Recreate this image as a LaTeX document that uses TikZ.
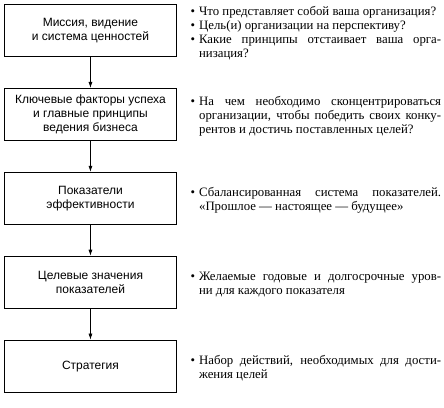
\documentclass[tikz,border=0pt]{standalone}
\usepackage{fontspec}
\setmainfont{Liberation Serif}
\setsansfont{Liberation Sans}
\usetikzlibrary{positioning,arrows.meta}

\tikzset{
  stage/.style={draw, line width=0.9pt, minimum width=172pt, minimum height=52pt,
    align=center, inner sep=2pt, font=\sffamily\fontsize{12}{14}\selectfont},
  notes/.style={anchor=west, text width=254pt, inner sep=0pt, align=justify,
    font=\fontsize{12.8}{14}\selectfont},
  flow/.style={-{Latex[length=6pt,width=4pt]}, line width=0.6pt}
}
\newenvironment{points}{\begin{list}{\textbullet}{\setlength{\leftmargin}{12pt}%
  \setlength{\labelwidth}{8pt}\setlength{\labelsep}{4pt}\setlength{\itemsep}{0pt}%
  \setlength{\parsep}{0pt}\setlength{\topsep}{0pt}\setlength{\partopsep}{0pt}}}{\end{list}}

\begin{document}
\begin{tikzpicture}
		%%%%% START %%%%%
		\useasboundingbox (0,0) rectangle (444pt,-407pt);
		
		\node[stage, anchor=north west] (miss) at (4pt,-4pt) {Миссия, видение\\и система ценностей};
		\node[stage, below=31pt of miss] (kfu) {Ключевые факторы успеха\\и главные принципы\\ведения бизнеса};
		\node[stage, below=31pt of kfu] (pok) {Показатели\\эффективности};
		\node[stage, below=31pt of pok] (cel) {Целевые значения\\показателей};
		\node[stage, below=31pt of cel] (str) {Стратегия};
		
		\foreach \a/\b in {miss/kfu, kfu/pok, pok/cel, cel/str}
			\draw[flow] (\a) -- (\b);
		
		\node[notes, right=10pt of miss] (missnote) {\begin{points}
			\item Что представляет собой ваша организация?
			\item Цель(и) организации на перспективу?
			\item Какие принципы отстаивает ваша орга-\linebreak низация?
		\end{points}};
		\node[notes, right=10pt of kfu] (kfunote) {\begin{points}
			\item На чем необходимо сконцентрироваться\linebreak организации, чтобы победить своих конку-\linebreak рентов и достичь поставленных целей?
		\end{points}};
		\node[notes, right=10pt of pok] (poknote) {\begin{points}
			\item Сбалансированная система показателей.\linebreak «Прошлое — настоящее — будущее»
		\end{points}};
		\node[notes, right=10pt of cel] (celnote) {\begin{points}
			\item Желаемые годовые и долгосрочные уров-\linebreak ни для каждого показателя
		\end{points}};
		\node[notes, right=10pt of str] (strnote) {\begin{points}
			\item Набор действий, необходимых для дости-\linebreak жения целей
		\end{points}};
		
		%%%%% END %%%%%
	\end{tikzpicture}
\end{document}
